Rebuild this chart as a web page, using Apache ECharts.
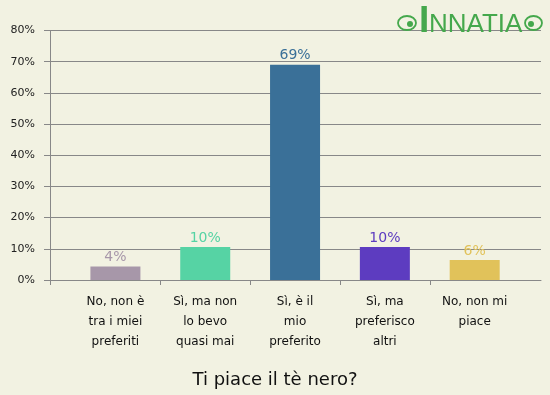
<!DOCTYPE html>
<html>
<head>
<meta charset="utf-8">
<script src="https://cdn.jsdelivr.net/npm/echarts@6/dist/echarts.min.js"></script>
<style>
html,body{margin:0;padding:0;background:#f2f2e2;}
#chart{width:550px;height:395px;}
</style>
</head>
<body>
<div id="chart"></div>
<script>
var categories = [
  'No, non è\ntra i miei\npreferiti',
  'Sì, ma non\nlo bevo\nquasi mai',
  'Sì, è il\nmio\npreferito',
  'Sì, ma\npreferisco\naltri',
  'No, non mi\npiace'
];
var values = [4.3, 10.6, 69.0, 10.6, 6.4];
var valueLabels = ['4%', '10%', '69%', '10%', '6%'];
var barColors = ['#a797a9', '#56d3a4', '#3a7098', '#5d3cc0', '#e1c25a'];
var yTicks = [0, 10, 20, 30, 40, 50, 60, 70, 80];
var chartTitle = 'Ti piace il tè nero?';

var FONT = 'DejaVu Sans';
var chart = echarts.init(document.getElementById('chart'), null, {renderer: 'canvas'});
var green = '#45a84c';

var W = 550;
var bandLeft = 70.5, bandRight = 30.4;
var band = (W - bandLeft - bandRight) / categories.length;
var boundaryTicks = categories.slice(1).map(function () { return ''; });

chart.setOption({
  backgroundColor: '#f2f2e2',
  animation: false,
  textStyle: {fontFamily: FONT},
  title: {
    text: chartTitle,
    left: 'center',
    top: 366,
    textStyle: {fontFamily: FONT, fontSize: 18, fontWeight: 'normal', color: '#111'}
  },
  grid: [
    {left: 50, right: 9, top: 30.5, bottom: 115},
    {left: bandLeft, right: bandRight, top: 30.5, bottom: 115},
    {left: bandLeft + band, right: bandRight + band, top: 30.5, bottom: 115}
  ],
  xAxis: [
    {
      gridIndex: 0, type: 'category', data: ['', ''], boundaryGap: false,
      axisLine: {show: true, lineStyle: {color: '#888', width: 1}},
      axisTick: {show: true, length: 5, interval: function (i) { return i === 0; }, lineStyle: {color: '#888'}},
      axisLabel: {show: false},
      splitLine: {show: false}
    },
    {
      gridIndex: 1, type: 'category', data: categories, boundaryGap: true,
      axisLine: {show: false},
      axisTick: {show: false},
      axisLabel: {interval: 0, fontFamily: FONT, fontSize: 12, lineHeight: 20, color: '#111', margin: 12},
      splitLine: {show: false}
    },
    {
      gridIndex: 2, type: 'category', data: boundaryTicks, boundaryGap: false,
      axisLine: {show: false},
      axisTick: {show: true, length: 5, interval: 0, lineStyle: {color: '#888'}},
      axisLabel: {show: false},
      splitLine: {show: false}
    }
  ],
  yAxis: [
    {
      gridIndex: 0, type: 'value', min: yTicks[0], max: yTicks[yTicks.length - 1], interval: 10,
      axisLine: {show: true, lineStyle: {color: '#888', width: 1}},
      axisTick: {show: true, length: 6, lineStyle: {color: '#888'}},
      axisLabel: {formatter: '{value}%', fontFamily: FONT, fontSize: 11, color: '#222', margin: 15},
      splitLine: {show: true, lineStyle: {color: '#888', width: 1}}
    },
    {
      gridIndex: 1, type: 'value', min: yTicks[0], max: yTicks[yTicks.length - 1], interval: 10,
      show: false
    },
    {
      gridIndex: 2, type: 'value', min: 0, max: 1, show: false
    }
  ],
  series: [{
    type: 'bar',
    xAxisIndex: 1,
    yAxisIndex: 1,
    barWidth: 50,
    data: values.map(function (v, i) {
      return {
        value: v,
        itemStyle: {color: barColors[i]},
        label: {color: barColors[i]}
      };
    }),
    label: {
      show: true,
      position: 'top',
      distance: 2,
      fontFamily: FONT,
      fontSize: 14,
      formatter: function (p) { return valueLabels[p.dataIndex]; }
    }
  }],
  graphic: [
    {type: 'ellipse', shape: {cx: 407, cy: 23, rx: 9, ry: 7}, style: {fill: 'none', stroke: green, lineWidth: 1.8}, z: 100},
    {type: 'circle', shape: {cx: 410, cy: 24, r: 3}, style: {fill: green}, z: 100},
    {type: 'ellipse', shape: {cx: 533.5, cy: 23, rx: 8.5, ry: 7}, style: {fill: 'none', stroke: green, lineWidth: 1.8}, z: 100},
    {type: 'circle', shape: {cx: 531, cy: 24, r: 3}, style: {fill: green}, z: 100},
    {type: 'text', left: 419, top: 3, z: 100, style: {text: 'I', fontFamily: 'Liberation Sans', fontWeight: 'bold', fontSize: 37, fill: green}},
    {type: 'text', left: 429, top: 12, z: 100, style: {text: 'NNATIA', fontFamily: 'Liberation Sans', fontSize: 26, fill: green}}
  ]
});
</script>
</body>
</html>
